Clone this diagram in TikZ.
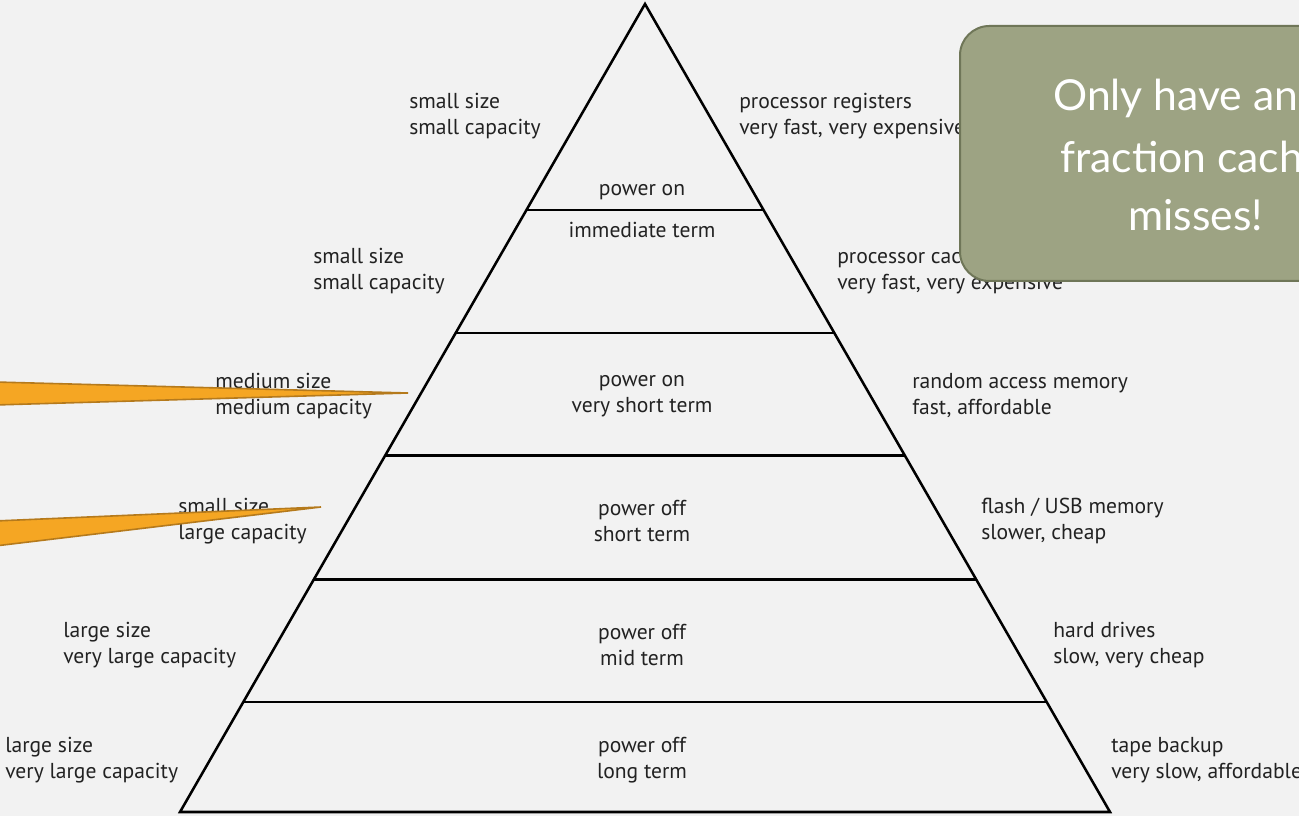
\documentclass[tikz,border=0pt]{standalone}
\usepackage{fontspec}
\setmainfont{PT Sans}
\newfontfamily\notefont{Lato}
\usetikzlibrary{calc}

\definecolor{slidebg}{HTML}{F2F2F2}
\definecolor{inktext}{HTML}{222222}
\definecolor{notefill}{HTML}{9DA383}
\definecolor{noteline}{HTML}{6F7658}
\definecolor{wedgefill}{HTML}{F5A623}
\definecolor{wedgeline}{HTML}{B57A1C}

\begin{document}
\begin{tikzpicture}[
  x=0.75pt,y=-0.75pt,
  side/.style={anchor=west,align=left,inner sep=0pt,text=inktext,
    font=\fontsize{16.2}{19.5}\selectfont},
  tier/.style={align=center,inner sep=0pt,text=inktext,
    font=\fontsize{16.2}{19.5}\selectfont},
  edge/.style={line width=1.9pt,line join=miter},
  note/.style={draw=noteline,line width=1.5pt,fill=notefill,rounded corners=22pt},
  noteline/.style={anchor=west,inner sep=0pt,text=white,
    font=\notefont\fontsize{32}{38}\selectfont},
  wedge/.style={fill=wedgefill,draw=wedgeline,line width=1.2pt,line join=miter}
]
  \fill[slidebg] (0,0) rectangle (1299,816);
  \useasboundingbox (0,0) rectangle (1299,816);

  % pyramid
  \coordinate (apex) at (645,4);
  \coordinate (baseL) at (180,812);
  \coordinate (baseR) at (1110,812);
  \draw[edge] (baseL) -- (apex) -- (baseR) -- cycle;
  \foreach \t in {0.255,0.407,0.559,0.712,0.864}
    \draw[edge] ($(apex)!\t!(baseL)$) -- ($(apex)!\t!(baseR)$);

  % left column
  \node[side] (sizeA) at (409,116) {small size\\small capacity};
  \node[side] (sizeB) at (313,271) {small size\\small capacity};
  \node[side] (sizeC) at (215,396) {medium size\\medium capacity};
  \node[side] (sizeD) at (178,521) {small size\\large capacity};
  \node[side] (sizeE) at (63,645) {large size\\very large capacity};
  \node[side] (sizeF) at (5,760) {large size\\very large capacity};

  % middle column
  \node[tier] (termA) at (642,192) {power on};
  \node[tier] (termB) at (642,230) {immediate term};
  \node[tier] (termC) at (642,396) {power on\\very short term};
  \node[tier] (termD) at (642,521) {power off\\short term};
  \node[tier] (termE) at (642,645) {power off\\mid term};
  \node[tier] (termF) at (642,760) {power off\\long term};

  % right column
  \node[side] (kindA) at (739,116) {processor registers\\very fast, very expensive};
  \node[side] (kindB) at (837,271) {processor cache\\very fast, very expensive};
  \node[side] (kindC) at (912,396) {random access memory\\fast, affordable};
  \node[side] (kindD) at (981,521) {flash / USB memory\\slower, cheap};
  \node[side] (kindE) at (1053,645) {hard drives\\slow, very cheap};
  \node[side] (kindF) at (1111,760) {tape backup\\very slow, affordable};

  \begin{scope}
    \clip (0,0) rectangle (1299,816);
    % pointers from off-slide callouts
    \coordinate (tipA) at (408,393);
    \coordinate (tipB) at (321,507);
    \draw[wedge] (-5,382) -- (tipA) -- (-5,405) -- cycle;
    \draw[wedge] (-5,521) -- (tipB) -- (-5,546) -- cycle;

    % callout box
    \draw[note] (960,26) rectangle (1440,281);
    \node[noteline] (lineA) at (1053,98) {Only have an};
    \node[noteline] (lineB) at (1060,157) {fraction cache};
    \node[noteline] (lineC) at (1128,215) {misses!};
  \end{scope}
\end{tikzpicture}
\end{document}
